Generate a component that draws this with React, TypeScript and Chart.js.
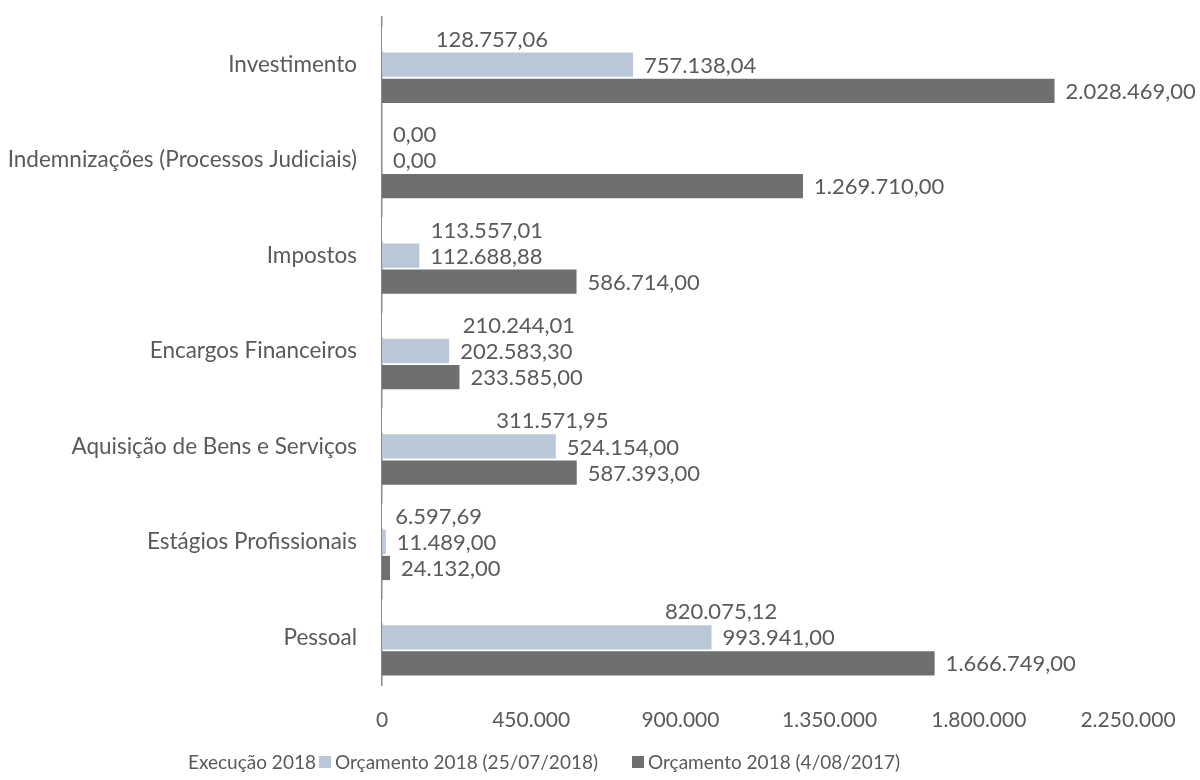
import React, { useEffect, useRef } from "react";
import { Chart, registerables } from "chart.js";

Chart.register(...registerables);

const categories = [
  "Investimento",
  "Indemnizações (Processos Judiciais)",
  "Impostos",
  "Encargos Financeiros",
  "Aquisição de Bens e Serviços",
  "Estágios Profissionais",
  "Pessoal",
];
const execucao2018 = [128757.06, 0, 113557.01, 210244.01, 311571.95, 6597.69, 820075.12];
const orcamento2018Jul = [757138.04, 0, 112688.88, 202583.3, 524154.0, 11489.0, 993941.0];
const orcamento2018Ago2017 = [2028469.0, 1269710.0, 586714.0, 233585.0, 587393.0, 24132.0, 1666749.0];
const seriesNames = ["Execução 2018", "Orçamento 2018 (25/07/2018)", "Orçamento 2018 (4/08/2017)"];
const xMax = 2250000;
const xStep = 450000;

const TEXT = "#5a5a5a";
const FONT = "Lato, 'Open Sans', sans-serif";
const LIGHT = "#bac7d6";
const DARK = "#6e706f";

function groupThousands(s: string): string {
  return s.replace(/\B(?=(\d{3})+(?!\d))/g, ".");
}
function fmtValue(v: number): string {
  const [i, d] = v.toFixed(2).split(".");
  return groupThousands(i) + "," + d;
}
function fmtTick(v: number): string {
  return groupThousands(String(Math.round(v)));
}

const labelPlugin = {
  id: "valueLabels",
  afterDatasetsDraw(chart: any) {
    const ctx = chart.ctx;
    ctx.save();
    ctx.font = `22px ${FONT}`;
    ctx.fillStyle = TEXT;
    ctx.textAlign = "left";
    ctx.textBaseline = "middle";
    chart.data.datasets.forEach((ds: any, di: number) => {
      const meta = chart.getDatasetMeta(di);
      meta.data.forEach((el: any, i: number) => {
        ctx.fillText(fmtValue(ds.data[i]), el.x + 11, el.y + 1);
      });
    });
    ctx.restore();
  },
};

export default function App() {
  const ref = useRef<HTMLCanvasElement>(null);
  useEffect(() => {
    document.body.style.margin = "0";
    const chart = new Chart(ref.current!, {
      type: "bar",
      data: {
        labels: categories,
        datasets: [
          { label: seriesNames[0], data: execucao2018, backgroundColor: "#ffffff" },
          { label: seriesNames[1], data: orcamento2018Jul, backgroundColor: LIGHT },
          { label: seriesNames[2], data: orcamento2018Ago2017, backgroundColor: DARK },
        ],
      },
      options: {
        indexAxis: "y",
        animation: false,
        responsive: false,
        maintainAspectRatio: false,
        categoryPercentage: 0.82,
        barPercentage: 0.93,
        layout: { padding: { top: 17, right: 72, left: 0, bottom: 0 } },
        plugins: { legend: { display: false }, tooltip: { enabled: false } },
        scales: {
          x: {
            min: 0,
            max: xMax,
            grid: { display: false },
            border: { display: false },
            ticks: {
              stepSize: xStep,
              color: TEXT,
              font: { family: FONT, size: 21 },
              padding: 15,
              callback: (v: any) => fmtTick(Number(v)),
            },
            afterFit: (s: any) => {
              s.height = 95;
            },
          },
          y: {
            grid: { display: false },
            border: { display: true, color: "#8a8a8a", width: 1.5 },
            ticks: {
              color: TEXT,
              font: { family: FONT, size: 22.5 },
              padding: 17,
            },
            afterFit: (s: any) => {
              s.width = 382;
              s.paddingTop = 0;
              s.paddingBottom = 0;
            },
          },
        },
      } as any,
      plugins: [labelPlugin],
    });
    return () => chart.destroy();
  }, []);

  const legendText: React.CSSProperties = {
    position: "absolute",
    top: 750,
    font: `19px ${FONT}`,
    color: TEXT,
    whiteSpace: "nowrap",
    lineHeight: "24px",
  };
  const box = (c: string): React.CSSProperties => ({
    display: "inline-block",
    width: 12,
    height: 12,
    background: c,
    marginRight: 4,
    verticalAlign: "middle",
    position: "relative",
    top: -2,
  });

  return (
    <div style={{ position: "fixed", left: 0, top: 0, width: 1200, height: 780, background: "#fff" }}>
      <canvas ref={ref} width={1200} height={780} />
      <div style={{ ...legendText, left: 188 }}>{seriesNames[0]}</div>
      <div style={{ ...legendText, left: 319 }}>
        <span style={box(LIGHT)} />
        {seriesNames[1]}
      </div>
      <div style={{ ...legendText, left: 632 }}>
        <span style={box(DARK)} />
        {seriesNames[2]}
      </div>
    </div>
  );
}
